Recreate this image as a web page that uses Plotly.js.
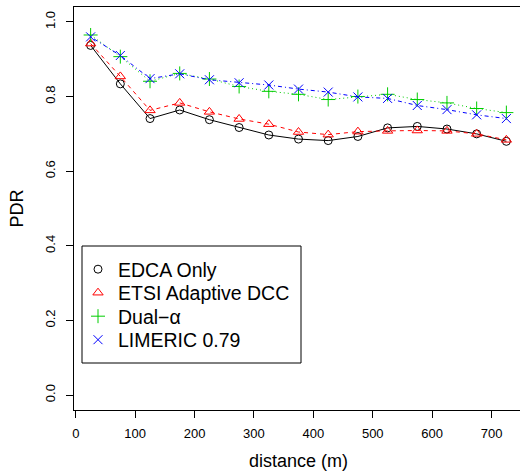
<!DOCTYPE html>
<html>
<head>
<meta charset="utf-8">
<script src="https://cdn.plot.ly/plotly-3.0.1.min.js"></script>
<style>
html,body{margin:0;padding:0;overflow:hidden;background:#fff;width:520px;height:474px;}
#chart{width:524px;height:474px;}
</style>
</head>
<body>
<div id="chart"></div>
<script>
const distance = [25, 75, 125, 175, 225, 275, 325, 375, 425, 475, 525, 575, 625, 675, 725];
const edcaOnly = [0.937, 0.834, 0.741, 0.764, 0.738, 0.717, 0.697, 0.686, 0.682, 0.693, 0.716, 0.720, 0.713, 0.700, 0.680];
const etsiAdaptive = [0.942, 0.854, 0.763, 0.783, 0.759, 0.740, 0.726, 0.705, 0.698, 0.706, 0.708, 0.709, 0.708, 0.700, 0.684];
const dualAlpha = [0.965, 0.907, 0.841, 0.862, 0.847, 0.827, 0.814, 0.806, 0.792, 0.800, 0.806, 0.792, 0.783, 0.768, 0.757];
const limeric = [0.960, 0.910, 0.848, 0.861, 0.845, 0.837, 0.831, 0.820, 0.812, 0.799, 0.795, 0.776, 0.765, 0.751, 0.741];
const seriesNames = ["EDCA Only", "ETSI Adaptive DCC", "Dual\u2212\u03B1", "LIMERIC 0.79"];
const yTicks = [0, 0.2, 0.4, 0.6, 0.8, 1.0];
const xTicks = [0, 100, 200, 300, 400, 500, 600, 700];

const FONT = '"Liberation Sans", Arial, Helvetica, sans-serif';
const styles = [
  {color:'#000000', dash:'solid', symbol:'circle-open', size:8},
  {color:'#FF0000', dash:'4px,4px', symbol:'triangle-up-open', size:9},
  {color:'#00CD00', dash:'1px,3px', symbol:'cross-thin-open', size:10},
  {color:'#0000FF', dash:'1px,3px,4px,3px', symbol:'x-thin-open', size:9}
];
const values = [edcaOnly, etsiAdaptive, dualAlpha, limeric];
const legendIds = ['legend', 'legend2', 'legend3', 'legend4'];

const traces = [];
values.forEach((vals, i) => {
  const s = styles[i];
  traces.push({
    x: distance, y: vals, type:'scatter', mode:'lines+markers',
    name: seriesNames[i], showlegend:false,
    line:{color:s.color, width:1, dash:s.dash},
    marker:{symbol:s.symbol, size:s.size, color:s.color, line:{color:s.color, width:1}},
    cliponaxis:false
  });
});
values.forEach((vals, i) => {
  const s = styles[i];
  traces.push({
    x:[null], y:[null], type:'scatter', mode:'markers',
    name: seriesNames[i], showlegend:true, legend: legendIds[i],
    marker:{symbol:s.symbol, size:s.size, color:s.color, line:{color:s.color, width:1}}
  });
});

const L = 74, T = 7, PW = 449, PH = 403;
const rowCenters = [268, 291.5, 315, 338.5];
const layout = {
  width: 524, height: 474,
  margin:{l:L, r:524-L-PW, t:T, b:474-T-PH, pad:0},
  paper_bgcolor:'#fff', plot_bgcolor:'#fff',
  font:{family:FONT, color:'#000', size:13},
  showlegend:true,
  xaxis:{
    range:[-3, 753], tickmode:'array', tickvals:xTicks, ticktext:xTicks.map(String),
    showgrid:false, zeroline:false, showline:true, mirror:true, linecolor:'#000', linewidth:1,
    ticks:'outside', ticklen:7, tickcolor:'#000', tickwidth:1,
    tickfont:{family:FONT, size:13, color:'#000'},
    ticklabelstandoff:4,
    title:{text:'distance (m)', font:{family:FONT, size:18, color:'#000'}, standoff:14},
    automargin:false
  },
  yaxis:{
    range:[-0.04, 1.04], tickmode:'array', tickvals:yTicks, ticktext:yTicks.map(v=>v.toFixed(1)),
    showgrid:false, zeroline:false, showline:true, mirror:true, linecolor:'#000', linewidth:1,
    ticks:'outside', ticklen:7, tickcolor:'#000', tickwidth:1,
    tickangle:-90,
    tickfont:{family:FONT, size:13, color:'#000'},
    ticklabelstandoff:6,
    title:{text:'PDR', font:{family:FONT, size:18, color:'#000'}, standoff:14},
    automargin:false
  },
  shapes:[{
    type:'rect', xref:'paper', yref:'paper', layer:'below',
    x0:(82-L)/PW, x1:(301-L)/PW, y0:(T+PH-363)/PH, y1:(T+PH-246)/PH,
    line:{color:'#000', width:1}, fillcolor:'#fff'
  }]
};
legendIds.forEach((id, i) => {
  layout[id] = {
    x:(78-L)/PW, y:(T+PH-(rowCenters[i]-18))/PH, xanchor:'left', yanchor:'top',
    bgcolor:'rgba(0,0,0,0)', borderwidth:0,
    font:{family:FONT, size:19.5, color:'#000'},
    itemwidth:30
  };
});

Plotly.newPlot('chart', traces, layout, {displayModeBar:false, staticPlot:true});
</script>
</body>
</html>
